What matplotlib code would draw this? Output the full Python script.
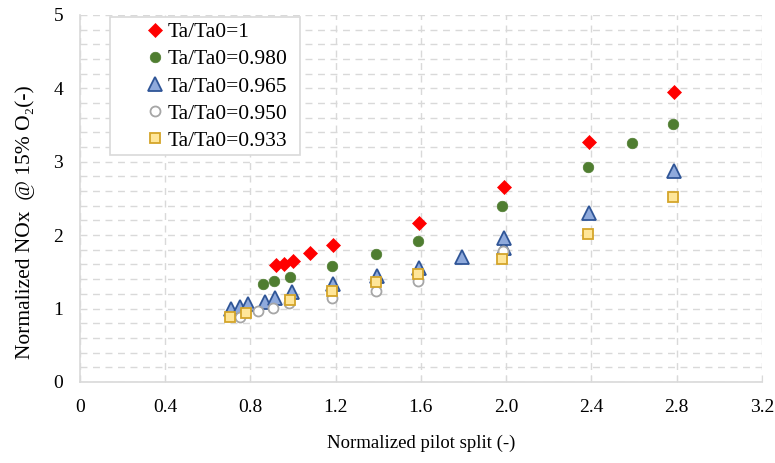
import matplotlib
matplotlib.use("Agg")
from matplotlib import pyplot as plt
from matplotlib.ticker import MultipleLocator, FuncFormatter
from matplotlib.patches import Rectangle

plt.rcParams['font.family'] = ['Liberation Serif', 'DejaVu Serif']

# data
x_100 = [0.92, 0.96, 1.0, 1.08, 1.19, 1.59, 1.99, 2.39, 2.79]
y_100 = [1.59, 1.61, 1.65, 1.75, 1.87, 2.17, 2.65, 3.27, 3.95]

x_980 = [0.86, 0.91, 0.985, 1.185, 1.39, 1.585, 1.98, 2.385, 2.59, 2.785]
y_980 = [1.33, 1.38, 1.43, 1.58, 1.74, 1.92, 2.39, 2.93, 3.25, 3.51]

x_965 = [0.71, 0.75, 0.79, 0.87, 0.915, 0.995, 1.19, 1.395, 1.59, 1.795, 1.99, 1.99, 2.39, 2.79]
y_965 = [0.99, 1.02, 1.06, 1.09, 1.15, 1.23, 1.34, 1.44, 1.55, 1.70, 1.82, 1.96, 2.30, 2.87]

x_950 = [0.75, 0.835, 0.905, 0.98, 1.185, 1.39, 1.585, 1.985]
y_950 = [0.88, 0.96, 1.01, 1.07, 1.15, 1.24, 1.37, 1.78]

x_933 = [0.705, 0.78, 0.985, 1.185, 1.39, 1.585, 1.98, 2.385, 2.785]
y_933 = [0.89, 0.94, 1.12, 1.24, 1.36, 1.47, 1.67, 2.01, 2.52]

fig = plt.figure(figsize=(7.75, 4.63), dpi=100)
ax = fig.add_axes([0.103, 0.175, 0.88, 0.793])

ax.plot(x_100, y_100, 'D', ms=7.6, mfc='#FF0000', mec='#FF0000', mew=0.5, ls='none', label='Ta/Ta0=1')
ax.plot(x_980, y_980, 'o', ms=7.6, mfc='#4F7D30', mec='#4F7D30', mew=0.5, ls='none', label='Ta/Ta0=0.980')
ax.plot(x_965, y_965, '^', ms=10, mfc='#8FAADC', mec='#2F5597', mew=1.3, ls='none', label='Ta/Ta0=0.965')
ax.plot(x_950, y_950, 'o', ms=7.2, mfc='white', mec='#A6A6A6', mew=1.3, ls='none', label='Ta/Ta0=0.950')
ax.plot(x_933, y_933, 's', ms=7.6, mfc='#FFE699', mec='#D4A52A', mew=1.3, ls='none', label='Ta/Ta0=0.933')

ax.set_xlim(0, 3.2)
ax.set_ylim(0, 5)
ax.xaxis.set_major_locator(MultipleLocator(0.4))
ax.yaxis.set_major_locator(MultipleLocator(1))
ax.yaxis.set_minor_locator(MultipleLocator(0.2))
ax.xaxis.set_major_formatter(FuncFormatter(lambda v, p: '0' if abs(v) < 1e-9 else '%.1f' % v))

ax.grid(True, which='both', color='#D9D9D9', ls=(0, (5, 4)), lw=1)
ax.set_axisbelow(True)
for s in ['top', 'right']:
    ax.spines[s].set_visible(False)
for s in ['left', 'bottom']:
    ax.spines[s].set_color('#D9D9D9')
    ax.spines[s].set_linewidth(1.2)

ax.tick_params(axis='x', direction='in', length=5, color='#D9D9D9', labelsize=14, pad=12)
ax.tick_params(axis='y', which='both', length=0, labelsize=14, pad=12)

ax.set_xlabel('Normalized pilot split (-)', fontsize=13.5, labelpad=14)
ax.set_ylabel('Normalized NOx  @ 15% O\u2082(-)', fontsize=15.5)
ax.yaxis.set_label_coords(-0.065, 0.436)

# legend frame drawn by hand (markers sit well inside the left edge)
ax.add_patch(Rectangle((0.044, 0.619), 0.279, 0.376, transform=ax.transAxes,
                       fill=True, facecolor='white', edgecolor='#D9D9D9', lw=1.2, zorder=4))
leg = ax.legend(loc='upper left', bbox_to_anchor=(0.095, 0.98),
                prop={'family': ['Liberation Serif', 'DejaVu Serif'], 'size': 15.5},
                frameon=False, handletextpad=0.05, handlelength=1.0,
                borderpad=0, borderaxespad=0, labelspacing=0.33)
leg.set_zorder(5)

plt.savefig('out.png', dpi=100)
